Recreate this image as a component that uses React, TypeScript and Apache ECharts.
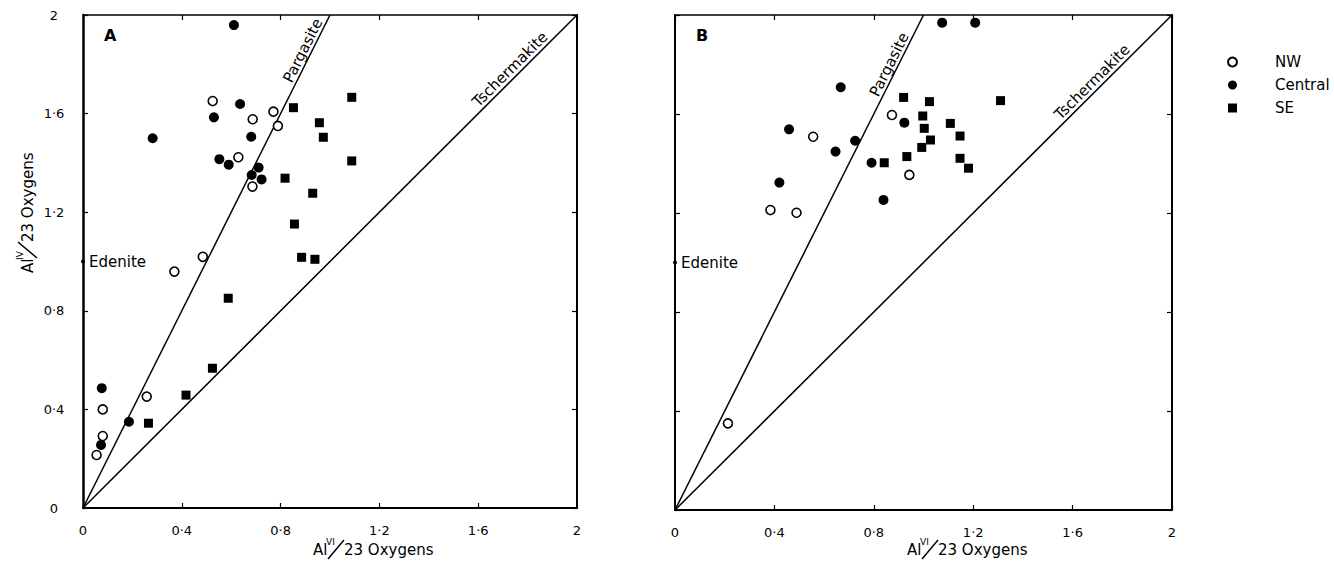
import React, { useEffect, useRef } from 'react';
import * as echarts from 'echarts';

const FONT = '"DejaVu Sans", sans-serif';

// axis scale
const axisMin = 0;
const axisMax = 2;
const axisStep = 0.4;

// legend / group names
const groupNames = ['NW', 'Central', 'SE'];

// Panel A data [AlVI, AlIV]
const nwA = [
  [0.525, 1.651], [0.771, 1.608], [0.687, 1.577], [0.789, 1.55], [0.629, 1.423], [0.686, 1.304],
  [0.485, 1.019], [0.37, 0.959], [0.258, 0.452], [0.08, 0.4], [0.08, 0.292], [0.055, 0.215],
];
const centralA = [
  [0.611, 1.959], [0.636, 1.639], [0.53, 1.585], [0.282, 1.5], [0.681, 1.506], [0.552, 1.415],
  [0.59, 1.393], [0.711, 1.381], [0.683, 1.351], [0.723, 1.333], [0.076, 0.486], [0.186, 0.35],
  [0.073, 0.256],
];
const seA = [
  [0.852, 1.624], [0.957, 1.563], [0.973, 1.504], [1.088, 1.666], [1.088, 1.408], [0.818, 1.338],
  [0.93, 1.277], [0.856, 1.152], [0.885, 1.017], [0.939, 1.009], [0.588, 0.851], [0.524, 0.567],
  [0.417, 0.458], [0.265, 0.344],
];

// Panel B data
const nwB = [
  [0.873, 1.596], [0.556, 1.508], [0.943, 1.354], [0.384, 1.212], [0.489, 1.201], [0.213, 0.35],
];
const centralB = [
  [1.075, 1.969], [1.208, 1.969], [0.667, 1.708], [0.459, 1.538], [0.725, 1.492], [0.646, 1.448],
  [0.923, 1.565], [0.791, 1.403], [0.42, 1.323], [0.839, 1.253],
];
const seB = [
  [0.92, 1.667], [1.024, 1.65], [0.997, 1.592], [1.108, 1.562], [1.003, 1.542], [1.147, 1.511],
  [1.028, 1.495], [0.993, 1.465], [0.933, 1.428], [0.842, 1.403], [1.147, 1.421], [1.181, 1.381],
  [1.31, 1.654],
];

// end-member lines
const pargasiteLine = [[0, 0], [1, 2]];
const tschermakiteLine = [[0, 0], [2, 2]];
const edenitePoint = [[0, 1]];

// label anchor points on the lines (data coords), per panel
const pargasiteLabelAt = [[0.917, 1.834], [0.889, 1.778]];
const tschermakiteLabelAt = [[1.75, 1.75], [1.70, 1.70]];

const panelLetters = ['A', 'B'];

function fmt(v: number): string {
  const r = Math.round(v * 10) / 10;
  if (Number.isInteger(r)) return String(r);
  return r.toFixed(1).replace('.', '\u00b7');
}

function buildOption() {
  const grids = [
    { left: 83, top: 15, width: 494, height: 493 },
    { left: 675, top: 15, width: 497, height: 495 },
  ];
  const xAxis: any[] = [];
  const yAxis: any[] = [];
  grids.forEach((_, gi) => {
    const common = {
      gridIndex: gi,
      type: 'value',
      min: axisMin,
      max: axisMax,
      interval: axisStep,
      splitLine: { show: false },
      axisTick: { show: true, inside: true, length: 5, lineStyle: { color: '#000', width: 1.2 } },
    };
    xAxis.push({
      ...common,
      position: 'bottom',
      axisLine: { show: true, onZero: false, lineStyle: { color: '#000', width: 2 } },
      axisLabel: {
        show: true, formatter: fmt, color: '#000', fontSize: 13, fontFamily: FONT, margin: 16,
      },
    });
    xAxis.push({
      ...common,
      position: 'top',
      axisLine: { show: true, onZero: false, lineStyle: { color: '#000', width: 1.5 } },
      axisLabel: { show: false },
    });
    yAxis.push({
      ...common,
      position: 'left',
      axisLine: { show: true, onZero: false, lineStyle: { color: '#000', width: gi === 0 ? 2.5 : 2 } },
      axisLabel: {
        show: gi === 0, formatter: fmt, color: '#000', fontSize: 13, fontFamily: FONT,
        margin: 29, align: 'center',
      },
    });
    yAxis.push({
      ...common,
      position: 'right',
      axisLine: { show: true, onZero: false, lineStyle: { color: '#000', width: 2 } },
      axisLabel: { show: false },
    });
  });

  const panels = [
    { nw: nwA, central: centralA, se: seA },
    { nw: nwB, central: centralB, se: seB },
  ];
  const series: any[] = [];
  panels.forEach((p, gi) => {
    const axes = { xAxisIndex: gi * 2, yAxisIndex: gi * 2 };
    const lineStyle = { color: '#000', width: 1.5, opacity: 1 };
    series.push({
      type: 'line', ...axes, data: pargasiteLine, symbol: 'none', silent: true, z: 1,
      lineStyle, itemStyle: { color: '#000' },
    });
    series.push({
      type: 'line', ...axes, data: tschermakiteLine, symbol: 'none', silent: true, z: 1,
      lineStyle, itemStyle: { color: '#000' },
    });
    series.push({
      type: 'scatter', ...axes, data: edenitePoint, symbol: 'circle', symbolSize: 4, z: 3,
      itemStyle: { color: '#000', opacity: 1 },
      label: {
        show: true, position: 'right', distance: 4, formatter: 'Edenite',
        color: '#000', fontSize: 15, fontFamily: FONT,
      },
    });
    series.push({
      name: groupNames[0], type: 'scatter', ...axes, data: p.nw, symbol: 'circle', symbolSize: 9, z: 4,
      itemStyle: { color: '#fff', borderColor: '#000', borderWidth: 1.6, opacity: 1 },
    });
    series.push({
      name: groupNames[1], type: 'scatter', ...axes, data: p.central, symbol: 'circle', symbolSize: 10, z: 4,
      itemStyle: { color: '#000', opacity: 1 },
    });
    series.push({
      name: groupNames[2], type: 'scatter', ...axes, data: p.se, symbol: 'rect', symbolSize: 9, z: 4,
      itemStyle: { color: '#000', opacity: 1 },
    });
  });

  return {
    animation: false,
    backgroundColor: '#fff',
    grid: grids,
    xAxis,
    yAxis,
    series,
    legend: {
      data: groupNames,
      orient: 'vertical',
      left: 1227,
      top: 54,
      padding: 0,
      itemWidth: 9,
      itemHeight: 9,
      itemGap: 7,
      selectedMode: false,
      textStyle: {
        color: '#000', fontSize: 15, fontFamily: FONT, lineHeight: 16, padding: [0, 0, 0, 33],
      },
    },
  };
}

function axisTitle(x: number, y: number, sup: string, rotation: number) {
  const base = { fill: '#000', fontFamily: FONT };
  return {
    type: 'group',
    x,
    y,
    rotation,
    children: [
      {
        type: 'text', x: 0, y: 0,
        style: { ...base, text: 'Al', fontSize: 15, align: 'left', textAlign: 'left', verticalAlign: 'middle', textVerticalAlign: 'middle' },
      },
      {
        type: 'text', x: 13, y: -8,
        style: { ...base, text: sup, fontSize: 9, align: 'left', textAlign: 'left', verticalAlign: 'middle', textVerticalAlign: 'middle' },
      },
      {
        type: 'line',
        shape: { x1: 15, y1: 9, x2: 31, y2: -10 },
        style: { stroke: '#000', lineWidth: 1.5 },
      },
      {
        type: 'text', x: 31, y: 0,
        style: { ...base, text: '23 Oxygens', fontSize: 15, align: 'left', textAlign: 'left', verticalAlign: 'middle', textVerticalAlign: 'middle' },
      },
    ],
  };
}

export default function App() {
  const ref = useRef<HTMLDivElement>(null);
  useEffect(() => {
    if (!ref.current) return;
    const chart = echarts.init(ref.current, null, { renderer: 'svg' });
    chart.setOption(buildOption() as any);

    const graphics: any[] = [];
    [0, 1].forEach((gi) => {
      const o = chart.convertToPixel({ gridIndex: gi } as any, pargasiteLine[0]) as number[];
      const pEnd = chart.convertToPixel({ gridIndex: gi } as any, pargasiteLine[1]) as number[];
      const tEnd = chart.convertToPixel({ gridIndex: gi } as any, tschermakiteLine[1]) as number[];
      const pAng = Math.atan2(o[1] - pEnd[1], pEnd[0] - o[0]);
      const tAng = Math.atan2(o[1] - tEnd[1], tEnd[0] - o[0]);
      const pAt = chart.convertToPixel({ gridIndex: gi } as any, pargasiteLabelAt[gi]) as number[];
      const tAt = chart.convertToPixel({ gridIndex: gi } as any, tschermakiteLabelAt[gi]) as number[];
      const lineText = (text: string, at: number[], rot: number) => ({
        type: 'text', x: at[0], y: at[1] - 2, rotation: rot,
        style: {
          text, fill: '#000', fontSize: 15, fontFamily: FONT,
          align: 'center', textAlign: 'center', verticalAlign: 'bottom', textVerticalAlign: 'bottom',
        },
      });
      graphics.push(lineText('Pargasite', pAt, pAng));
      graphics.push(lineText('Tschermakite', tAt, tAng));
      const corner = chart.convertToPixel({ gridIndex: gi } as any, [0, 2]) as number[];
      graphics.push({
        type: 'text', x: corner[0] + 21, y: corner[1] + 20,
        style: {
          text: panelLetters[gi], fill: '#000', fontSize: 16, fontWeight: 'bold', fontFamily: FONT,
          align: 'left', textAlign: 'left', verticalAlign: 'middle', textVerticalAlign: 'middle',
        },
      });
      const xStart = chart.convertToPixel({ gridIndex: gi } as any, [0, 0]) as number[];
      graphics.push(axisTitle(xStart[0] + (gi === 0 ? 230 : 232), 550, 'VI', 0));
    });
    graphics.push(axisTitle(28, 273, 'IV', Math.PI / 2));
    chart.setOption({ graphic: graphics } as any);

    return () => chart.dispose();
  }, []);
  return (
    <div
      ref={ref}
      style={{ position: 'fixed', left: 0, top: 0, width: 1334, height: 568, background: '#fff' }}
    />
  );
}
